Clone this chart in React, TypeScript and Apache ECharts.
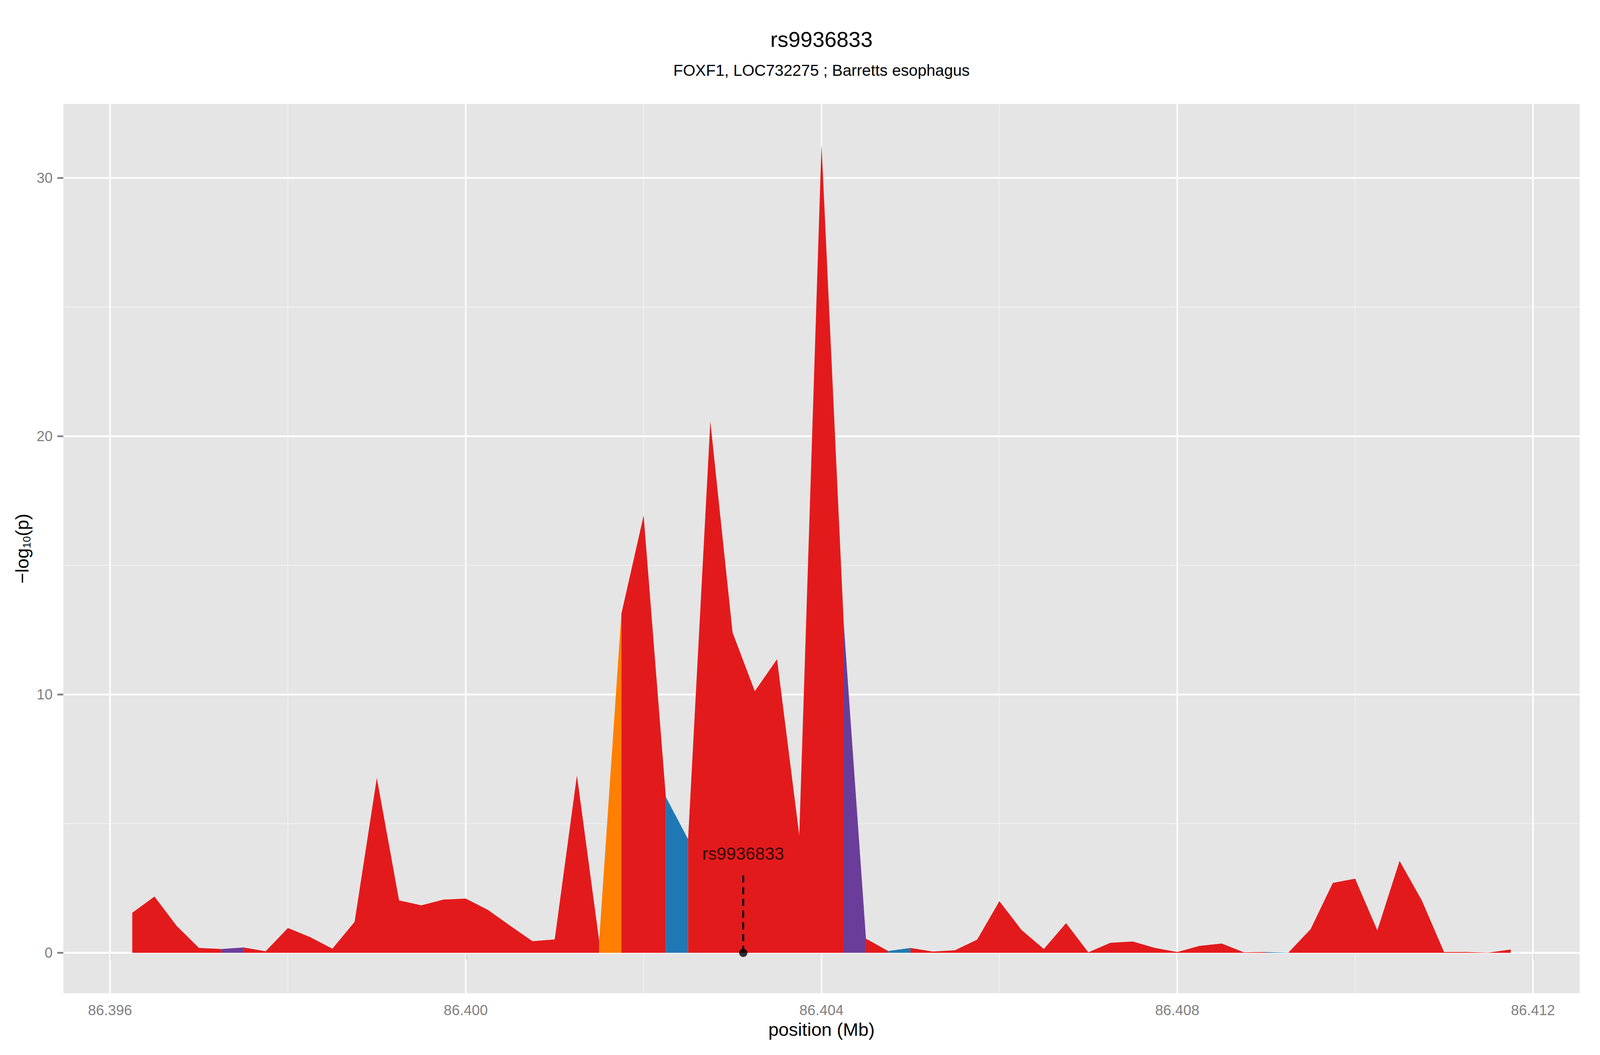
import React, { useEffect, useRef } from "react";
import * as echarts from "echarts";

// ---------- data ----------
const positions = [
  86.39625, 86.3965, 86.39675, 86.397, 86.39725, 86.3975, 86.39775, 86.398, 86.39825, 86.3985,
  86.39875, 86.399, 86.39925, 86.3995, 86.39975, 86.4, 86.40025, 86.4005, 86.40075, 86.401,
  86.40125, 86.4015, 86.40175, 86.402, 86.40225, 86.4025, 86.40275, 86.403, 86.40325, 86.4035,
  86.40375, 86.404, 86.40425, 86.4045, 86.40475, 86.405, 86.40525, 86.4055, 86.40575, 86.406,
  86.40625, 86.4065, 86.40675, 86.407, 86.40725, 86.4075, 86.40775, 86.408, 86.40825, 86.4085,
  86.40875, 86.409, 86.40925, 86.4095, 86.40975, 86.41, 86.41025, 86.4105, 86.41075, 86.411,
  86.41125, 86.4115, 86.41175,
];

const logP = [
  1.55, 2.18, 1.04, 0.19, 0.15, 0.21, 0.06, 0.96, 0.61, 0.16,
  1.2, 6.77, 2.03, 1.84, 2.06, 2.1, 1.66, 1.05, 0.45, 0.52,
  6.87, 0.47, 13.13, 16.93, 6.03, 4.4, 20.57, 12.4, 10.13, 11.37,
  4.55, 31.3, 12.75, 0.55, 0.07, 0.19, 0.05, 0.1, 0.51, 2.0,
  0.88, 0.15, 1.15, 0.02, 0.39, 0.44, 0.19, 0.03, 0.27, 0.36,
  0.02, 0.03, 0.01, 0.92, 2.71, 2.87, 0.87, 3.56, 2.03, 0.03,
  0.03, 0.01, 0.13,
];

// LD class of each segment between consecutive positions (0 red, 1 orange, 2 blue, 3 purple)
const segmentClass = [
  0, 0, 0, 0, 3, 0, 0, 0, 0, 0,
  0, 0, 0, 0, 0, 0, 0, 0, 0, 0,
  0, 1, 0, 0, 2, 0, 0, 0, 0, 0,
  0, 0, 3, 0, 2, 0, 0, 0, 0, 0,
  0, 0, 0, 0, 0, 0, 0, 0, 0, 0,
  0, 2, 0, 0, 0, 0, 0, 0, 0, 0,
  0, 0,
];
const classColors = ["#E31A1C", "#FF7F00", "#1F78B4", "#6A3D9A"];

const xTicks = [86.396, 86.4, 86.404, 86.408, 86.412];
const xMinorGrid = [86.398, 86.402, 86.406, 86.41];
const yTicks = [0, 10, 20, 30];
const yMinorGrid = [5, 15, 25];
const xRange = [86.395475, 86.412525];
const yRange = [-1.565, 32.865];

const snpName = "rs9936833";
const snpPos = 86.40312;
const snpLineTop = 3.1;
const snpLabelY = 3.85;

const titleText = "rs9936833";
const subtitleText = "FOXF1, LOC732275 ; Barretts esophagus";

const FONT = '"Liberation Sans", Arial, Helvetica, sans-serif';
const DESIGN_W = 4800;
const DESIGN_H = 2700;

function buildOption(sx: number, sy: number) {
  const f = Math.sqrt(sx * sy);
  const X = (v: number) => v * sx;
  const Y = (v: number) => v * sy;
  const F = (v: number) => v * f;

  // runs of consecutive segments sharing the same class
  const runs: { cls: number; from: number; to: number }[] = [];
  let start = 0;
  for (let k = 1; k <= segmentClass.length; k++) {
    if (k === segmentClass.length || segmentClass[k] !== segmentClass[start]) {
      runs.push({ cls: segmentClass[start], from: start, to: k });
      start = k;
    }
  }

  const hLine = (v: number, color: string, width: number) => ({
    type: "line",
    data: [
      [xRange[0], v],
      [xRange[1], v],
    ],
    symbol: "none",
    silent: true,
    z: 1,
    lineStyle: { color, width: Y(width) },
  });
  const vLine = (v: number, color: string, width: number) => ({
    type: "line",
    data: [
      [v, yRange[0]],
      [v, yRange[1]],
    ],
    symbol: "none",
    silent: true,
    z: 1,
    lineStyle: { color, width: X(width) },
  });

  const gridSeries = [
    ...yMinorGrid.map((v) => hLine(v, "#F2F2F2", 2.2)),
    ...xMinorGrid.map((v) => vLine(v, "#F2F2F2", 2.2)),
    ...yTicks.map((v) => hLine(v, "#FFFFFF", 4.4)),
    ...xTicks.map((v) => vLine(v, "#FFFFFF", 4.4)),
  ];

  const areaSeries = runs.map((r) => ({
    type: "line",
    data: positions.slice(r.from, r.to + 1).map((x, k) => [x, logP[r.from + k]]),
    symbol: "none",
    showSymbol: false,
    silent: true,
    z: 2,
    lineStyle: { width: 0, color: classColors[r.cls] },
    areaStyle: { color: classColors[r.cls], opacity: 1 },
  }));

  const snpSeries = [
    {
      type: "line",
      data: [
        [snpPos, 0],
        [snpPos, snpLineTop],
      ],
      symbol: "none",
      silent: true,
      z: 3,
      lineStyle: { color: "#000", width: X(6), type: [Y(18), Y(12)] },
    },
    {
      type: "scatter",
      data: [[snpPos, 0]],
      symbolSize: F(23),
      silent: true,
      z: 4,
      itemStyle: { color: "#000" },
    },
    {
      type: "scatter",
      data: [[snpPos, snpLabelY]],
      symbolSize: 0,
      silent: true,
      z: 4,
      label: {
        show: true,
        position: "inside",
        formatter: snpName,
        fontSize: F(48),
        color: "#000",
        fontFamily: FONT,
      },
    },
  ];

  return {
    animation: false,
    backgroundColor: "#FFFFFF",
    textStyle: { fontFamily: FONT },
    grid: {
      left: X(190),
      right: X(61),
      top: Y(266),
      bottom: Y(158),
      containLabel: false,
      show: true,
      backgroundColor: "#E5E5E5",
      borderWidth: 0,
    },
    graphic: [
      {
        type: "text",
        x: X(2464.5),
        y: Y(101),
        style: {
          text: titleText,
          fontSize: F(60),
          fontFamily: FONT,
          fill: "#000",
          align: "center",
          verticalAlign: "middle",
        },
      },
      {
        type: "text",
        x: X(2464.5),
        y: Y(180),
        style: {
          text: subtitleText,
          fontSize: F(44),
          fontFamily: FONT,
          fill: "#000",
          align: "center",
          verticalAlign: "middle",
        },
      },
    ],
    xAxis: {
      type: "value",
      min: xRange[0],
      max: xRange[1],
      axisLine: { show: false },
      axisTick: {
        show: true,
        length: Y(18),
        lineStyle: { color: "#7F7F7F", width: X(4.5) },
        customValues: xTicks,
      },
      axisLabel: {
        show: true,
        customValues: xTicks,
        formatter: (v: number) => v.toFixed(3),
        fontSize: F(40),
        color: "#7F7F7F",
        margin: Y(25),
        fontFamily: FONT,
      },
      splitLine: { show: false },
      minorSplitLine: { show: false },
      name: "position (Mb)",
      nameLocation: "middle",
      nameGap: Y(94) - F(27),
      nameTextStyle: { fontSize: F(51), color: "#000", fontFamily: FONT },
    },
    yAxis: {
      type: "value",
      min: yRange[0],
      max: yRange[1],
      axisLine: { show: false },
      axisTick: {
        show: true,
        length: X(18),
        lineStyle: { color: "#7F7F7F", width: Y(4.5) },
        customValues: yTicks,
      },
      axisLabel: {
        show: true,
        customValues: yTicks,
        formatter: (v: number) => String(Math.round(v)),
        fontSize: F(40),
        color: "#7F7F7F",
        margin: X(32),
        fontFamily: FONT,
      },
      splitLine: { show: false },
      minorSplitLine: { show: false },
      name: "\u2212log{sub|10}(p)",
      nameLocation: "middle",
      nameGap: X(118) - F(30),
      nameTextStyle: {
        fontSize: F(51),
        color: "#000",
        fontFamily: FONT,
        lineHeight: F(58),
        rich: {
          sub: {
            fontSize: F(30),
            lineHeight: F(30),
            verticalAlign: "bottom",
            color: "#000",
            fontFamily: FONT,
          },
        },
      },
    },
    series: [...gridSeries, ...areaSeries, ...snpSeries],
  };
}

export default function App() {
  const ref = useRef<HTMLDivElement>(null);
  useEffect(() => {
    const el = ref.current;
    if (!el) return;
    const w = el.clientWidth || window.innerWidth;
    const h = el.clientHeight || window.innerHeight;
    const chart = echarts.init(el, undefined, { renderer: "svg" });
    chart.setOption(buildOption(w / DESIGN_W, h / DESIGN_H) as any);
    return () => {
      chart.dispose();
    };
  }, []);
  return (
    <div
      ref={ref}
      style={{
        position: "fixed",
        left: 0,
        top: 0,
        width: "100vw",
        height: "100vh",
        background: "#fff",
      }}
    />
  );
}
